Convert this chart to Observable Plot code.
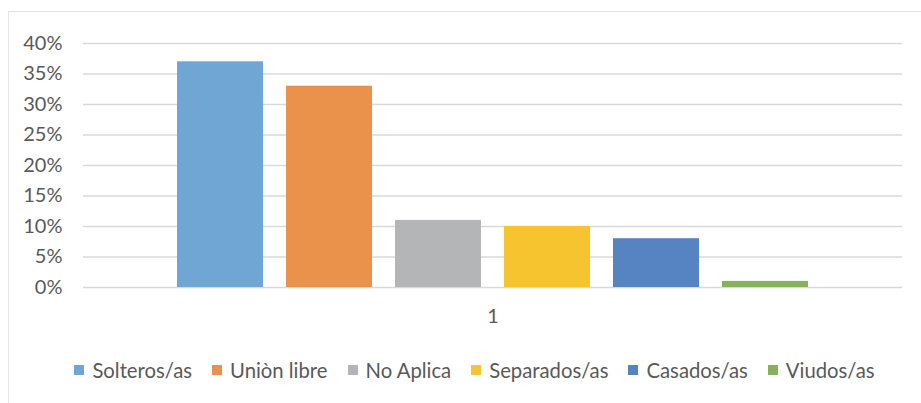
<!DOCTYPE html>
<html>
<head>
<meta charset="utf-8">
<script src="https://cdn.jsdelivr.net/npm/d3@7"></script>
<script src="https://cdn.jsdelivr.net/npm/@observablehq/plot@0.6"></script>
<style>
  body { margin: 0; background: #fff; font-family: Lato, "Open Sans", sans-serif; }
  #frame { position: absolute; left: 8px; top: 11px; width: 1000px; height: 500px; border: 1px solid #e4e4e4; box-sizing: border-box; }
  #chart { position: absolute; left: 0; top: 0; }
  #legend { position: absolute; left: 0; top: 353px; width: 949px; display: flex; justify-content: center; }
  .lg-swatches { display: flex; align-items: center; margin: 0; font-family: Lato, sans-serif; font-size: 20.3px; color: #595959; }
  .lg-swatch { margin-right: 20px !important; display: inline-flex; align-items: center; }
  .lg-swatch:last-child { margin-right: 0 !important; }
  .lg-swatch > svg { margin-right: 8px !important; }
</style>
</head>
<body>
<div id="frame"></div>
<div id="chart"></div>
<div id="legend"></div>
<script>
// Marital status shares, single group "1"
const categories = ["Solteros/as", "Uniòn libre", "No Aplica", "Separados/as", "Casados/as", "Viudos/as"];
const values = [0.37, 0.33, 0.11, 0.10, 0.08, 0.01];
const colors = ["#70a6d4", "#ea914c", "#b4b5b7", "#f6c42f", "#5683c2", "#86b25e"];
const groups = ["1"];
const yTicks = [0, 0.05, 0.10, 0.15, 0.20, 0.25, 0.30, 0.35, 0.40];

const rows = categories.map((c, i) => ({group: groups[0], category: c, value: values[i]}));

const chart = Plot.plot({
  width: 921,
  height: 345,
  marginLeft: 83,
  marginRight: 19,
  marginTop: 43,
  marginBottom: 58,
  style: {fontFamily: "Lato, sans-serif", fontSize: "20px", color: "#595959", background: "transparent"},
  fx: {domain: groups, padding: 0, label: null, axis: "bottom", tickSize: 0, tickPadding: 21},
  x: {domain: categories, paddingInner: 0.211, paddingOuter: 0.862, axis: null},
  y: {domain: [0, 0.40], ticks: yTicks, tickFormat: d3.format(".0%"), label: null, tickSize: 0, tickPadding: 21},
  color: {domain: categories, range: colors},
  marks: [
    Plot.ruleY(yTicks, {stroke: "#d9d9d9", strokeWidth: 1.3}),
    Plot.barY(rows, {fx: "group", x: "category", y: "value", fill: "category"})
  ]
});
document.getElementById("chart").appendChild(chart);

const legend = Plot.legend({
  color: {domain: categories, range: colors},
  swatchSize: 10,
  className: "lg"
});
document.getElementById("legend").appendChild(legend);
</script>
</body>
</html>
